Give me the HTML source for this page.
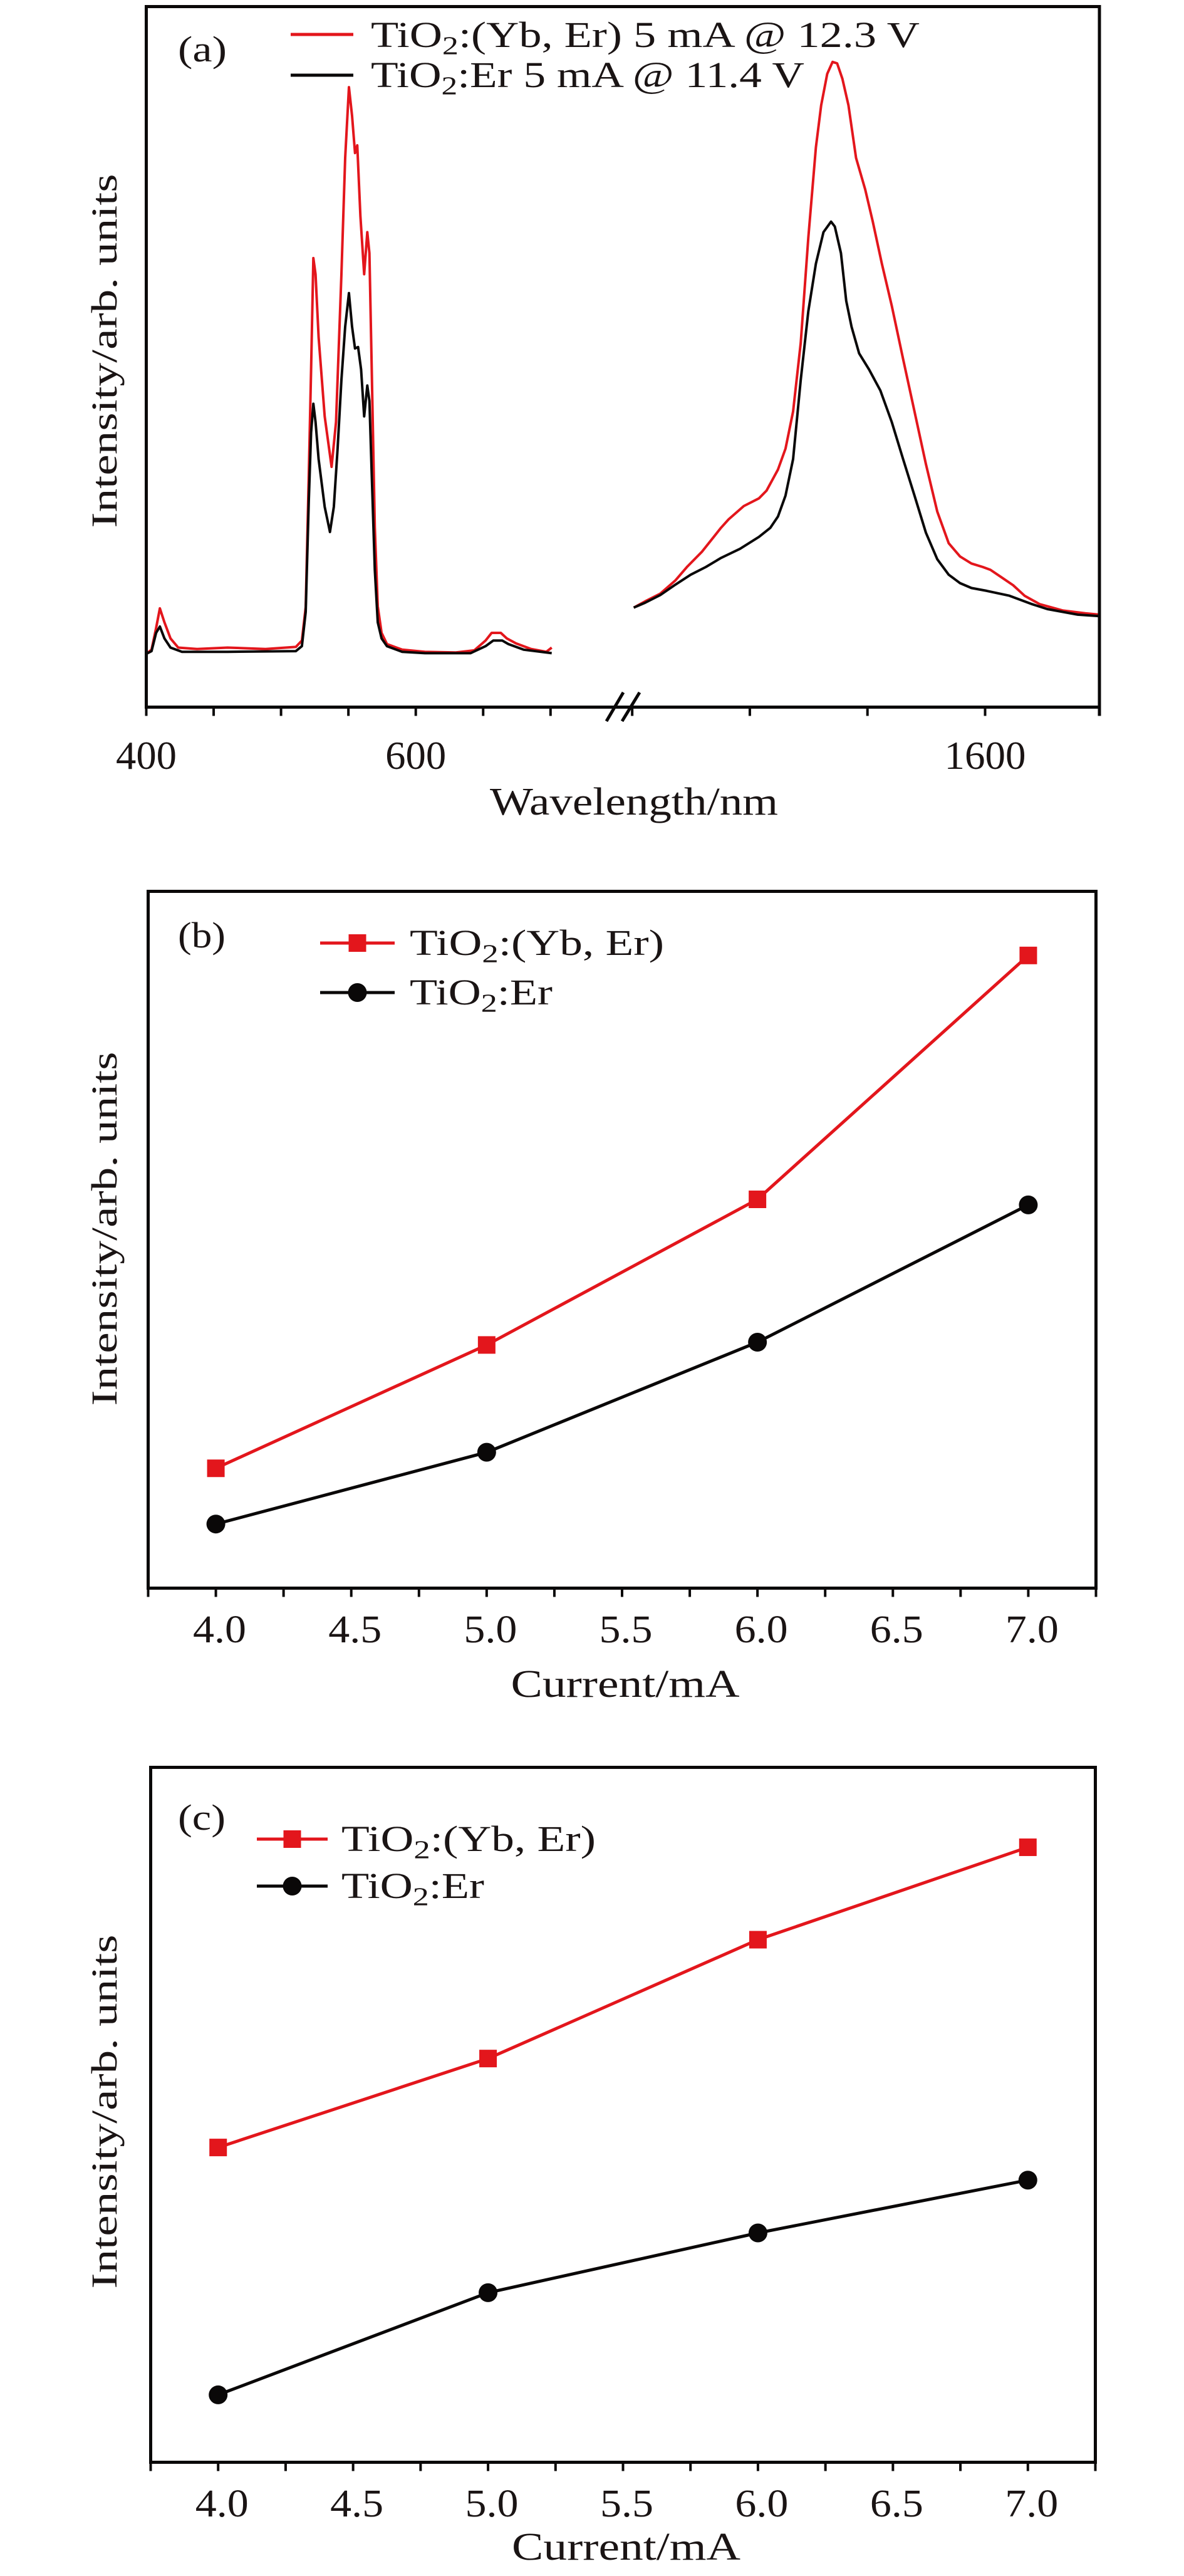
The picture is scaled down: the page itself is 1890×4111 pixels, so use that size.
<!DOCTYPE html>
<html><head><meta charset="utf-8">
<style>
html,body{margin:0;padding:0;background:#fff;}
svg{display:block;}
text{font-family:"Liberation Serif",serif;fill:#1a1414;}
</style></head>
<body>
<svg id="fig" width="1890" height="4111" viewBox="0 0 1890 4111" xmlns="http://www.w3.org/2000/svg"></svg>
<script>
// ---------- Panel (a) data ----------
const redLeftNm = [400,403.9,407.3,410.1,413.5,418,423.7,437.7,460.3,488.5,511,515.5,518.3,520.6,522.3,524,525.6,527.9,532.4,537.5,540.8,544.8,547.6,550.4,552.7,554.9,556.6,558.9,561.7,564,565.6,567.3,569.6,571.8,574.6,578.6,589.9,606.8,629.3,643.4,651.8,656.3,663.1,667.6,674.4,685.6,696.9,700.9];
const redLeftI = [7.6,8.2,11.3,14.1,12.1,9.8,8.5,8.3,8.5,8.3,8.6,9.5,14.3,33.2,48.2,64.1,61.8,52.8,41.5,34.3,40.7,61.8,78.4,88.5,84.4,79.1,80.2,70.1,61.8,67.8,64.8,48.2,25.7,14.4,10.6,9.0,8.2,7.9,7.8,8.1,9.5,10.6,10.6,9.8,9.1,8.3,7.9,8.5];
const blackLeftNm = [400,403.9,407.3,410.1,413.5,418,426.5,460.3,511,515.5,518.3,520.6,522.3,524,525.6,527.9,532.4,536.3,539.2,542,544.8,547.6,550.4,552.7,554.9,557.2,559.4,561.7,564,565.6,567.3,569.6,571.8,574.6,578.6,589.9,606.8,640.6,651.8,657.5,664.2,668.7,680,700.9];
const blackLeftI = [7.6,8.0,10.6,11.5,9.8,8.5,7.9,7.9,8.0,8.7,13.6,29.4,39.2,43.3,40.7,35.4,28.6,25.0,28.6,36.9,46.7,54.3,59.1,54.3,51.2,51.4,48.2,41.5,45.9,43.7,33.2,19.6,12.1,9.8,8.7,7.9,7.7,7.7,8.7,9.5,9.5,9.0,8.2,7.7];
const redRightNm = [1002.6,1022,1047.8,1073.6,1093,1118.8,1151,1163.9,1189.7,1215.5,1228.4,1247.8,1260.7,1273.6,1286.5,1299.4,1312.3,1321.3,1331.6,1340.7,1348.4,1357.4,1367.7,1380.6,1396.1,1409,1424.5,1441.3,1460.6,1480,1499.4,1518.7,1538.1,1557.4,1576.8,1596.1,1609,1628.4,1647.7,1667.1,1692.9,1731.6,1770.3,1794];
const redRightI = [14.2,15.1,16.2,18.1,20.0,22.2,25.6,26.8,28.7,29.8,30.9,33.9,36.9,42.2,52.0,67.0,79.9,85.9,90.4,92.1,91.9,89.7,85.9,78.4,73.9,69.3,63.3,57.3,49.7,42.2,34.7,27.9,23.4,21.5,20.5,20.0,19.6,18.5,17.4,15.9,14.7,13.8,13.4,13.2];
const blackRightNm = [1002.6,1022,1047.8,1073.6,1099.4,1125.2,1151,1183.3,1215.5,1234.9,1247.8,1260.7,1273.6,1286.5,1299.4,1312.3,1325.2,1338.1,1344.5,1354.9,1363.9,1372.9,1385.8,1402.6,1421.9,1441.3,1460.6,1480,1499.4,1518.7,1538.1,1557.4,1576.8,1602.6,1641.3,1680,1705.8,1757.4,1794];
const blackRightI = [14.2,14.9,16.0,17.5,18.9,20.0,21.3,22.6,24.3,25.6,27.2,30.2,35.4,46.7,56.5,63.3,67.8,69.3,68.6,64.8,58.0,54.3,50.5,48.2,45.2,40.7,35.4,30.2,24.9,21.1,18.9,17.7,17.0,16.6,15.9,14.7,14.0,13.2,13.0];
const aLeftTicks = [400,450,500,550,600,650,700];
const aRightTicks = [1000,1200,1400,1600];
const aTickLabels = [[400,'L'],[600,'L'],[1600,'R']];

// ---------- Panel (b) data ----------
const currents = [4.0,5.0,6.0,7.0];
const bRed = [17.2,34.9,55.8,90.8];
const bBlack = [9.2,19.5,35.3,55.0];
// ---------- Panel (c) data ----------
const cRed = [45.3,58.1,75.2,88.5];
const cBlack = [9.7,24.4,33.0,40.6];
const curTicks = [3.75,4.0,4.25,4.5,4.75,5.0,5.25,5.5,5.75,6.0,6.25,6.5,6.75,7.0,7.25];
const curLabels = ['4.0','4.5','5.0','5.5','6.0','6.5','7.0'];

const NS='http://www.w3.org/2000/svg';
const svg=document.getElementById('fig');
const RED='#e3161c', BLK='#0a0808';
function mk(tag,attrs,parent){const e=document.createElementNS(NS,tag);for(const k in attrs)e.setAttribute(k,attrs[k]);(parent||svg).appendChild(e);return e;}
function tio2(parent,x,y,rest,size,len){
  const t=mk('text',{x:x,y:y,'font-size':size,textLength:len,lengthAdjust:'spacingAndGlyphs'},parent);
  t.appendChild(document.createTextNode('TiO'));
  const s=mk('tspan',{'font-size':size*0.72,dy:size*0.2},t);s.textContent='2';
  const r=mk('tspan',{dy:-size*0.2},t);r.textContent=rest;
  return t;
}

// ===== Panel (a) =====
const ga=mk('g',{});


const aL=233.5,aR=1755,aT=10.5,aB=1128.5;
const xL=nm=>233.5+(nm-400)*2.151;
const xR=nm=>1572.5+(nm-1600)*0.9389;
const yA=v=>aB-v*11.18;
function polyA(nms,is,fx,color,name){
  const pts=nms.map((n,i)=>fx(n).toFixed(1)+','+yA(is[i]).toFixed(1)).join(' ');
  const p=mk('polyline',{points:pts,fill:'none',stroke:color,'stroke-width':4,'stroke-linejoin':'round'},ga);
  
  
}
polyA(redLeftNm,redLeftI,xL,RED,'yb-er-visible-spectrum');
polyA(redRightNm,redRightI,xR,RED,'yb-er-nir-spectrum');
polyA(blackLeftNm,blackLeftI,xL,BLK,'er-visible-spectrum');
polyA(blackRightNm,blackRightI,xR,BLK,'er-nir-spectrum');
const fa=mk('rect',{x:aL,y:aT,width:aR-aL,height:aB-aT,fill:'none',stroke:BLK,'stroke-width':5},ga);


aLeftTicks.forEach(v=>{mk('line',{x1:xL(v),x2:xL(v),y1:aB,y2:aB+14,stroke:BLK,'stroke-width':4},ga);});
aRightTicks.forEach(v=>{mk('line',{x1:xR(v),x2:xR(v),y1:aB,y2:aB+14,stroke:BLK,'stroke-width':4},ga);});
mk('line',{x1:aR,x2:aR,y1:aB,y2:aB+14,stroke:BLK,'stroke-width':5},ga);
const brk=mk('g',{},ga);


mk('line',{x1:968,y1:1151,x2:995,y2:1105,stroke:BLK,'stroke-width':5},brk);
mk('line',{x1:993,y1:1151,x2:1021,y2:1105,stroke:BLK,'stroke-width':5},brk);
aTickLabels.forEach(([v,s])=>{
  const t=mk('text',{x:(s==='L'?xL(v):xR(v)),y:1227,'font-size':64,'text-anchor':'middle',textLength:(v>999?130:97),lengthAdjust:'spacingAndGlyphs'},ga);
  t.textContent=String(v);
  
  
});
const xta=mk('text',{x:1012,y:1300,'font-size':62,'text-anchor':'middle',textLength:460,lengthAdjust:'spacingAndGlyphs'},ga);
xta.textContent='Wavelength/nm';


function ytitle(parent,cy,name){
  const t=mk('text',{x:0,y:0,'font-size':58,'text-anchor':'middle',textLength:565,lengthAdjust:'spacingAndGlyphs',transform:'translate(186,'+cy+') rotate(-90)'},parent);
  t.textContent='Intensity/arb. units';
  
  
}
ytitle(ga,560,'y-axis-title-a');
const pla=mk('text',{x:284,y:98,'font-size':58,textLength:78,lengthAdjust:'spacingAndGlyphs'},ga);
pla.textContent='(a)';


const lga=mk('g',{},ga);


mk('line',{x1:464,x2:564,y1:55,y2:55,stroke:RED,'stroke-width':5},lga);
const la1=tio2(lga,592,75,':(Yb, Er) 5 mA @ 12.3 V',58,876);


mk('line',{x1:464,x2:564,y1:120,y2:120,stroke:BLK,'stroke-width':5},lga);
const la2=tio2(lga,592,139,':Er 5 mA @ 11.4 V',58,692);



// ===== Panels (b) and (c) =====
function linePanel(cfg){
  const g=mk('g',{});
  
  
  const {L,R,T,B}=cfg;
  const x=v=>L+(v-3.75)*(R-L)/3.5;
  const y=v=>B-v*(B-T)/100;
  [[cfg.black,BLK,'circle','series-er'],[cfg.red,RED,'square','series-yb-er']].forEach(([vals,col,shape,nm])=>{
    const sg=mk('g',{},g);
    
    
    const pts=currents.map((c,i)=>x(c).toFixed(1)+','+y(vals[i]).toFixed(1)).join(' ');
    mk('polyline',{points:pts,fill:'none',stroke:col,'stroke-width':5},sg);
    currents.forEach((c,i)=>{
      let m;
      if(shape==='square') m=mk('rect',{x:x(c)-14,y:y(vals[i])-14,width:28,height:28,fill:col},sg);
      else m=mk('circle',{cx:x(c),cy:y(vals[i]),r:15,fill:col},sg);
      
      
    });
  });
  const f=mk('rect',{x:L,y:T,width:R-L,height:B-T,fill:'none',stroke:BLK,'stroke-width':5},g);
  
  
  curTicks.forEach(v=>{mk('line',{x1:x(v),x2:x(v),y1:B,y2:B+14,stroke:BLK,'stroke-width':4},g);});
  curLabels.forEach(s=>{
    const t=mk('text',{x:x(parseFloat(s))+6,y:cfg.tickY,'font-size':62,'text-anchor':'middle',textLength:85,lengthAdjust:'spacingAndGlyphs'},g);
    t.textContent=s;
    
    
  });
  const xt=mk('text',{x:(L+R)/2+5,y:cfg.titleY,'font-size':62,'text-anchor':'middle',textLength:365,lengthAdjust:'spacingAndGlyphs'},g);
  xt.textContent='Current/mA';
  
  
  ytitle(g,cfg.yTitleCy,'y-axis-title');
  const pl=mk('text',{x:284,y:cfg.plY,'font-size':58,textLength:76,lengthAdjust:'spacingAndGlyphs'},g);
  pl.textContent=cfg.label;
  
  
  const lg=mk('g',{},g);
  
  
  const lx1=cfg.lx1,lx2=cfg.lx2,mx=(lx1+lx2)/2;
  mk('line',{x1:lx1,x2:lx2,y1:cfg.ly1,y2:cfg.ly1,stroke:RED,'stroke-width':5},lg);
  mk('rect',{x:mx-14,y:cfg.ly1-14,width:28,height:28,fill:RED},lg);
  const e1=tio2(lg,cfg.tx,cfg.ly1+19,':(Yb, Er)',58,406);
  
  
  mk('line',{x1:lx1,x2:lx2,y1:cfg.ly2,y2:cfg.ly2,stroke:BLK,'stroke-width':5},lg);
  mk('circle',{cx:mx,cy:cfg.ly2,r:15,fill:BLK},lg);
  const e2=tio2(lg,cfg.tx,cfg.ly2+19,':Er',58,228);
  
  
}
linePanel({name:'panel-b-line-chart',L:236.5,R:1749.5,T:1422.5,B:2534.5,red:bRed,black:bBlack,tickY:2621,titleY:2708,yTitleCy:1961,plY:1512,label:'(b)',lx1:511,lx2:630,ly1:1505,ly2:1584,tx:654});
linePanel({name:'panel-c-line-chart',L:240.5,R:1748.5,T:2820.5,B:3929.5,red:cRed,black:cBlack,tickY:4016,titleY:4085,yTitleCy:3370,plY:2920,label:'(c)',lx1:410,lx2:523,ly1:2935,ly2:3010,tx:545});
</script>
</body></html>
